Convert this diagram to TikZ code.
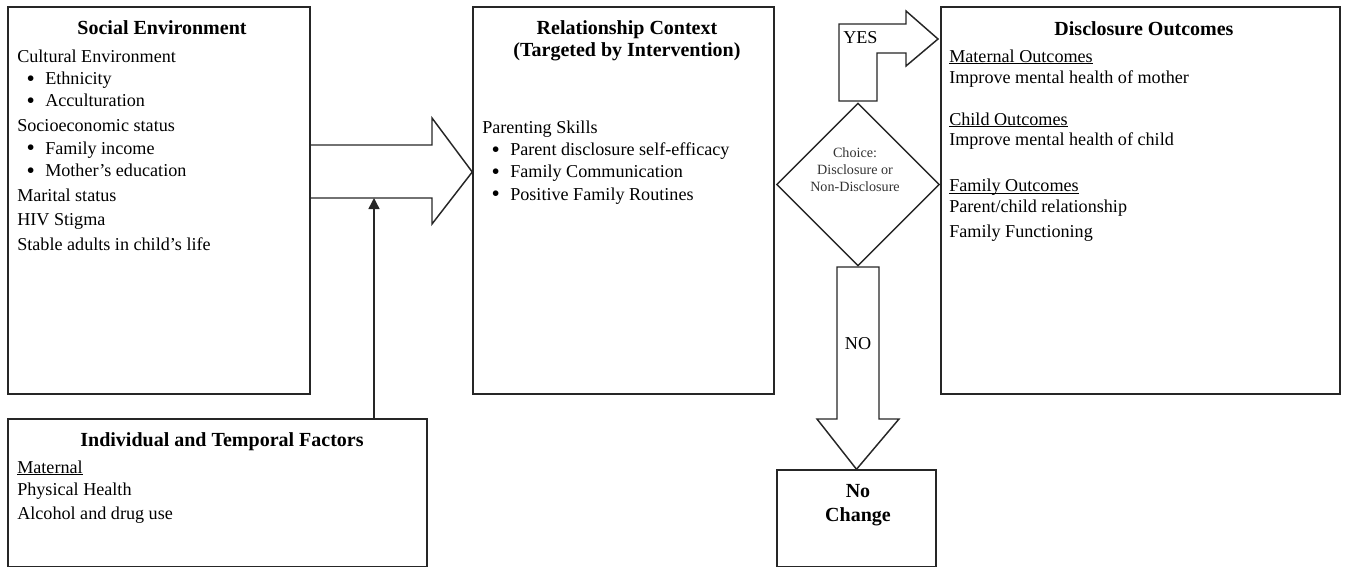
\documentclass[tikz,border=0pt]{standalone}
\usepackage{fontspec}
\setmainfont{Liberation Serif}
\usetikzlibrary{arrows.meta,shapes.geometric,fit}
\newcommand{\bul}{\makebox[21pt][l]{\hspace{7pt}\raisebox{-1.3pt}{\scalebox{1.3}{\textbullet}}}}
\newcommand{\ulin}[1]{{\setbox0\hbox{#1}\rlap{\rule[-1.4pt]{\wd0}{0.7pt}}\box0}}
\tikzset{
  box/.style={draw=black!85,line width=1.1pt,inner sep=0pt},
  ttl/.style={font=\fontsize{15}{16.5}\selectfont\bfseries,inner sep=0pt,align=center},
  body/.style={font=\fontsize{13.6}{16.7}\selectfont,inner sep=0pt,align=left,anchor=north west},
  choice/.style={diamond,draw=black!85,line width=1.1pt,inner sep=0pt,minimum width=122.25pt,minimum height=122.25pt},
  blockarrow/.style={draw=black!85,line width=1.1pt,line join=miter,fill=white},
  link/.style={draw=black!85,line width=1.1pt,-{Triangle[length=8.25pt,width=8.25pt]}},
}
\begin{document}
\begin{tikzpicture}[x=0.75pt,y=-0.75pt]
  \useasboundingbox (0,0) rectangle (1346,568);
  % boxes
  \node[box,fit={(8,7) (310,394)}] (se) {};
  \node[box,fit={(8,419) (427,566.5)}] (itf) {};
  \node[box,fit={(473,7) (774,394)}] (rc) {};
  \node[box,fit={(941,7) (1340,394)}] (do) {};
  \node[box,fit={(777,470) (936,566.5)}] (nc) {};
  \node[choice] (ch) at (858,184.5) {};

  % titles
  \node[ttl,anchor=base] (setitle) at (162,34) {Social Environment};
  \node[ttl,anchor=north] (rctitle) at (627,20.2) {Relationship Context\\(Targeted by Intervention)};
  \node[ttl,anchor=base] (dotitle) at (1144,35) {Disclosure Outcomes};
  \node[ttl,anchor=base] (itftitle) at (222,446) {Individual and Temporal Factors};
  \node[ttl,font=\fontsize{15}{18}\selectfont\bfseries,anchor=north] (nctitle) at (858,484.5) {No\\Change};

  % lists
  \node[body] (selist) at (17,49.6) {Cultural Environment\\
    \bul Ethnicity\\
    \bul Acculturation\\[1.9pt]
    Socioeconomic status\\
    \bul Family income\\
    \bul Mother’s education\\[1.9pt]
    Marital status\\[1.9pt]
    HIV Stigma\\[1.9pt]
    Stable adults in child’s life};
  \node[body] (rclist) at (482,120.6) {Parenting Skills\\
    \bul Parent disclosure self-efficacy\\
    \bul Family Communication\\
    \bul Positive Family Routines};
  \node[body,font=\fontsize{13.6}{15.5}\selectfont] (dolist) at (949,49.6) {\ulin{Maternal Outcomes}\\
    Improve mental health of mother\\[16pt]
    \ulin{Child Outcomes}\\
    Improve mental health of child\\[19pt]
    \ulin{Family Outcomes}\\
    Parent/child relationship\\[3pt]
    Family Functioning};
  \node[body] (itflist) at (17,460.6) {\ulin{Maternal}\\
    Physical Health\\[1.3pt]
    Alcohol and drug use};
  \node[font=\fontsize{10.6}{12.75}\selectfont,text=black!80,align=center,inner sep=0pt,anchor=north] (chtxt) at (855,147.3) {Choice:\\Disclosure or\\Non-Disclosure};

  % block arrows
  \draw[blockarrow,fill=none] (se.east |- 0,145) -- (432,145) -- (432,118) -- (rc.west |- 0,172) -- (432,224) -- (432,198) -- (se.east |- 0,198);
  \draw[blockarrow] (839,101) -- (839,24) -- (906,24) -- (906,11) -- (938,39) -- (906,66) -- (906,53) -- (877,53) -- (877,101) -- cycle;
  \draw[blockarrow] (837,267) -- (837,419) -- (817,419) -- (nc.north) -- (899,419) -- (879,419) -- (879,267) -- cycle;
  \node[font=\fontsize{13.6}{16.7}\selectfont,inner sep=0pt,anchor=base west] (yes) at (843,43) {YES};
  \node[font=\fontsize{13.6}{16.7}\selectfont,inner sep=0pt,anchor=base] (no) at (858,349) {NO};

  \draw[link] (itf.north -| 374,0) -- (374,198);
\end{tikzpicture}
\end{document}
